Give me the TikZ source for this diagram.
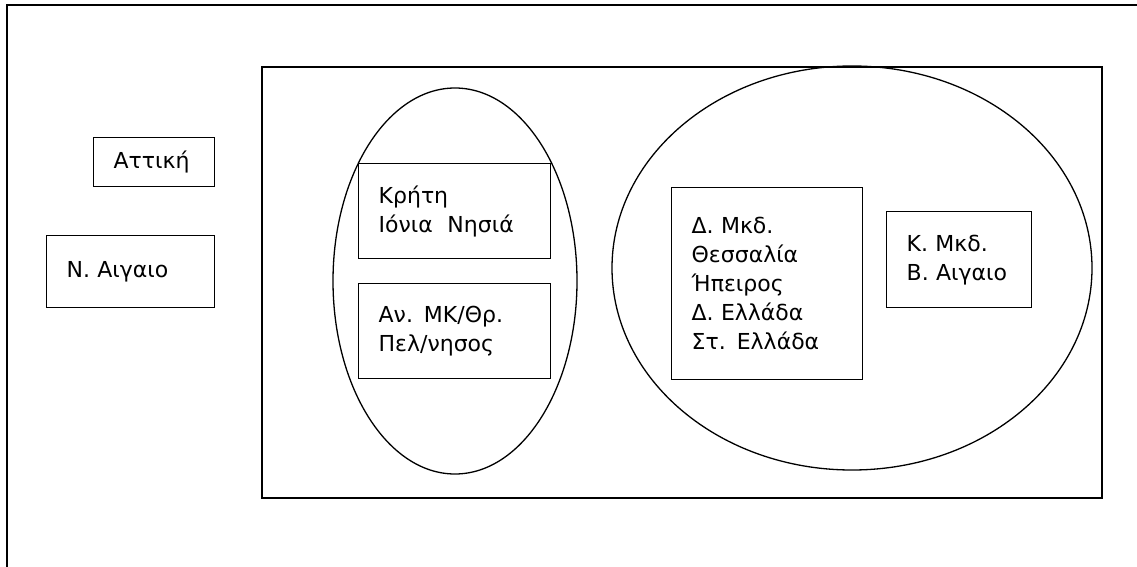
\documentclass[tikz,border=0pt]{standalone}
\usepackage{fontspec}
\setmainfont{DejaVu Sans}
\usetikzlibrary{shapes.geometric, positioning}

\tikzset{
  region/.style={draw, rectangle, line width=1.3pt, anchor=north west, align=left,
    inner xsep=20pt, inner ysep=0pt, font=\fontsize{22}{29}\selectfont},
  group/.style={draw, ellipse, line width=1.3pt, inner sep=0pt}
}

\begin{document}
\begin{tikzpicture}[x=1pt, y=-1pt]
  \clip (0,0) rectangle (1137,567);
  % Frame (cut off right and bottom)
  \draw[line width=2.4pt] (7,5) rectangle (1200,620);
  % Inner area
  \draw[line width=1.9pt] (262,67) rectangle (1102,498);

  % Groups
  \node[group, minimum width=244pt, minimum height=386pt] (small) at (455,281) {};
  \node[group, minimum width=480pt, minimum height=404pt] (large) at (852,268) {};

  % Regions outside
  \node[region, text width=81pt, minimum height=49pt] (attiki) at (93,137) {Αττική};
  \node[region, text width=128pt, minimum height=72pt] (naig) at (46,235) {Ν. Αιγαιο};

  % Regions in the small group
  \node[region, text width=152pt, minimum height=95pt] (kriti) at (358,163) {Κρήτη\\Ιόνια\ \ Νησιά};
  \node[region, text width=152pt, minimum height=95pt] (anmk) at (358,283) {Αν. ΜΚ/Θρ.\\Πελ/νησος};

  % Regions in the large group
  \node[region, text width=151pt, minimum height=192pt] (dmkd) at (671,187) {Δ. Μκδ.\\Θεσσαλία\\Ήπειρος\\Δ. Ελλάδα\\Στ. Ελλάδα};
  \node[region, text width=105pt, minimum height=96pt] (kmkd) at (886,211) {Κ. Μκδ.\\Β. Αιγαιο};
\end{tikzpicture}
\end{document}
